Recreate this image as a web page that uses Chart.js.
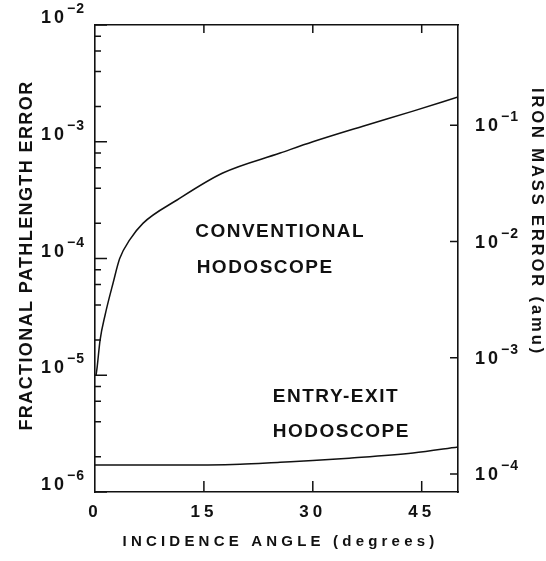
<!DOCTYPE html>
<html>
<head>
<meta charset="utf-8">
<script src="https://cdn.jsdelivr.net/npm/chart.js@4.4.1/dist/chart.umd.min.js"></script>
<style>
html, body { margin: 0; padding: 0; background: #fff; }
#wrap { width: 546px; height: 561px; }
</style>
</head>
<body>
<div id="wrap"><canvas id="errorChart"></canvas></div>
<script>
// values: incidence angle (deg) vs fractional pathlength error
const conventionalAngle = [0.15, 0.3, 0.7, 1.4, 2.5, 3.4, 4.8, 6.6, 11.3, 17.6, 25.5, 30.0, 36.9, 43.8, 50];
const conventionalError = [1.0e-5, 1.18e-5, 2.0e-5, 3.3e-5, 6.2e-5, 1.0e-4, 1.45e-4, 2.0e-4, 3.17e-4, 5.4e-4, 8.0e-4, 1.0e-3, 1.36e-3, 1.83e-3, 2.42e-3];
const entryExitAngle = [0, 10, 20, 25.5, 30, 35, 43.8, 50];
const entryExitError = [1.70e-6, 1.70e-6, 1.73e-6, 1.80e-6, 1.86e-6, 1.95e-6, 2.16e-6, 2.43e-6];

// tick values
const angleTicks = [0, 15, 30, 45];
const pathTicks = [1e-6, 1e-5, 1e-4, 1e-3, 1e-2];
const pathMinorTicks = [
    2e-6, 4e-6, 6e-6, 8e-6,
    2e-5, 4e-5, 6e-5, 8e-5,
    2e-4, 4e-4, 6e-4, 8e-4,
    2e-3, 4e-3, 6e-3, 8e-3
];
const massTicks = [1e-4, 1e-3, 1e-2, 1e-1];
const massPerPath = 73; // iron mass error (amu) for a fractional error of 1

const FONT = '"Liberation Sans", Arial, sans-serif';
const INK = '#111';

function drawText(ctx, text, x, y, size, spacing, rot, align) {
    ctx.save();
    ctx.font = 'bold ' + size + 'px ' + FONT;
    ctx.letterSpacing = spacing + 'px';
    ctx.fillStyle = INK;
    ctx.textAlign = align || 'center';
    ctx.textBaseline = 'middle';
    ctx.translate(x, y);
    if (rot) ctx.rotate(rot);
    ctx.fillText(text, 0, 0);
    ctx.restore();
}

// "10" with a raised exponent; x is the left edge, or the right edge when alignRight
function drawPower(ctx, value, x, y, alignRight) {
    const base = '10';
    const exp = '\u2212' + String(Math.abs(Math.round(Math.log10(value))));
    ctx.save();
    ctx.fillStyle = INK;
    ctx.textAlign = 'left';
    ctx.textBaseline = 'alphabetic';
    ctx.letterSpacing = '3px';
    ctx.font = 'bold 18px ' + FONT;
    const wb = ctx.measureText(base).width;
    ctx.letterSpacing = '1px';
    ctx.font = 'bold 14px ' + FONT;
    const we = ctx.measureText(exp).width;
    const x0 = alignRight ? x - wb - we : x;
    ctx.letterSpacing = '3px';
    ctx.font = 'bold 18px ' + FONT;
    ctx.fillText(base, x0, y + 8);
    ctx.letterSpacing = '1px';
    ctx.font = 'bold 14px ' + FONT;
    ctx.fillText(exp, x0 + wb, y - 2);
    ctx.restore();
}

// inward tick marks, power-of-ten labels and the text of the figure
const figurePlugin = {
    id: 'figurePlugin',
    beforeDraw: (chart) => {
        chart.ctx.letterSpacing = '4px';
    },
    afterDraw: (chart) => {
        const ctx = chart.ctx;
        const { left, right, top, bottom } = chart.chartArea;
        const s = chart.scales;

        ctx.save();
        ctx.strokeStyle = INK;
        ctx.lineWidth = 1.5;
        ctx.beginPath();
        pathTicks.forEach(v => {
            const y = s.y.getPixelForValue(v);
            ctx.moveTo(left, y); ctx.lineTo(left + 12, y);
        });
        pathMinorTicks.forEach(v => {
            const y = s.y.getPixelForValue(v);
            ctx.moveTo(left, y); ctx.lineTo(left + 6, y);
        });
        massTicks.forEach(v => {
            const y = s.y2.getPixelForValue(v);
            ctx.moveTo(right - 8, y); ctx.lineTo(right, y);
        });
        angleTicks.slice(1).forEach(v => {
            const x = s.x.getPixelForValue(v);
            ctx.moveTo(x, bottom); ctx.lineTo(x, bottom - 11);
            ctx.moveTo(x, top); ctx.lineTo(x, top + 8);
        });
        ctx.stroke();
        ctx.restore();

        // axis tick labels
        pathTicks.forEach(v => drawPower(ctx, v, left - 10, s.y.getPixelForValue(v) - 10, true));
        massTicks.forEach(v => drawPower(ctx, v, right + 17, s.y2.getPixelForValue(v) - 2, false));

        // curve labels
        drawText(ctx, 'CONVENTIONAL', s.x.getPixelForValue(13.8), s.y.getPixelForValue(1.69e-4), 19, 1.5, 0, 'left');
        drawText(ctx, 'HODOSCOPE', s.x.getPixelForValue(14.0), s.y.getPixelForValue(8.3e-5), 19, 1.5, 0, 'left');
        drawText(ctx, 'ENTRY-EXIT', s.x.getPixelForValue(24.5), s.y.getPixelForValue(6.6e-6), 19, 1.5, 0, 'left');
        drawText(ctx, 'HODOSCOPE', s.x.getPixelForValue(24.5), s.y.getPixelForValue(3.3e-6), 19, 1.5, 0, 'left');

        // axis titles
        drawText(ctx, 'FRACTIONAL PATHLENGTH ERROR', 27, (top + bottom) / 2 - 3, 18, 1.4, -Math.PI / 2);
        drawText(ctx, 'INCIDENCE ANGLE (degrees)', (left + right) / 2 + 4, bottom + 50, 15, 4.2, 0);
        drawText(ctx, 'IRON MASS ERROR (amu)', right + 79, top + 197, 16.5, 2.9, Math.PI / 2);
    }
};

const ctx = document.getElementById('errorChart').getContext('2d');
const errorChart = new Chart(ctx, {
    type: 'line',
    data: {
        datasets: [{
            label: 'Conventional hodoscope',
            data: conventionalAngle.map((x, i) => ({ x: x, y: conventionalError[i] })),
            borderColor: INK,
            borderWidth: 1.5,
            pointRadius: 0,
            fill: false,
            cubicInterpolationMode: 'monotone'
        },
        {
            label: 'Entry-exit hodoscope',
            data: entryExitAngle.map((x, i) => ({ x: x, y: entryExitError[i] })),
            borderColor: INK,
            borderWidth: 1.5,
            pointRadius: 0,
            fill: false,
            cubicInterpolationMode: 'monotone'
        }]
    },
    options: {
        animation: false,
        responsive: true,
        maintainAspectRatio: false,
        layout: { padding: { top: 25, left: 0, right: 0, bottom: 0 } },
        scales: {
            x: {
                type: 'linear',
                position: 'bottom',
                min: 0,
                max: 50,
                afterBuildTicks: (scale) => { scale.ticks = angleTicks.map(v => ({ value: v })); },
                afterFit: (scale) => { scale.height = 69; },
                grid: { display: false, drawTicks: false },
                border: { display: true, color: INK, width: 1.6 },
                ticks: {
                    autoSkip: false,
                    maxRotation: 0,
                    padding: 10,
                    color: INK,
                    font: { family: FONT, weight: 'bold', size: 17 }
                }
            },
            x2: {
                type: 'linear',
                position: 'top',
                min: 0,
                max: 50,
                afterFit: (scale) => { scale.height = 0; },
                grid: { display: false, drawTicks: false },
                border: { display: true, color: INK, width: 1.6 },
                ticks: { display: false }
            },
            y: {
                type: 'logarithmic',
                position: 'left',
                min: 1e-6,
                max: 1e-2,
                afterBuildTicks: (scale) => { scale.ticks = pathTicks.map(v => ({ value: v })); },
                afterFit: (scale) => { scale.width = 95; },
                grid: { display: false, drawTicks: false },
                border: { display: true, color: INK, width: 1.6 },
                ticks: { display: false }
            },
            y2: {
                type: 'logarithmic',
                position: 'right',
                min: 1e-6 * massPerPath,
                max: 1e-2 * massPerPath,
                afterBuildTicks: (scale) => { scale.ticks = massTicks.map(v => ({ value: v })); },
                afterFit: (scale) => { scale.width = 88; },
                grid: { display: false, drawTicks: false },
                border: { display: true, color: INK, width: 1.6 },
                ticks: { display: false }
            }
        },
        plugins: {
            legend: { display: false },
            tooltip: { enabled: false }
        }
    },
    plugins: [figurePlugin]
});
</script>
</body>
</html>
